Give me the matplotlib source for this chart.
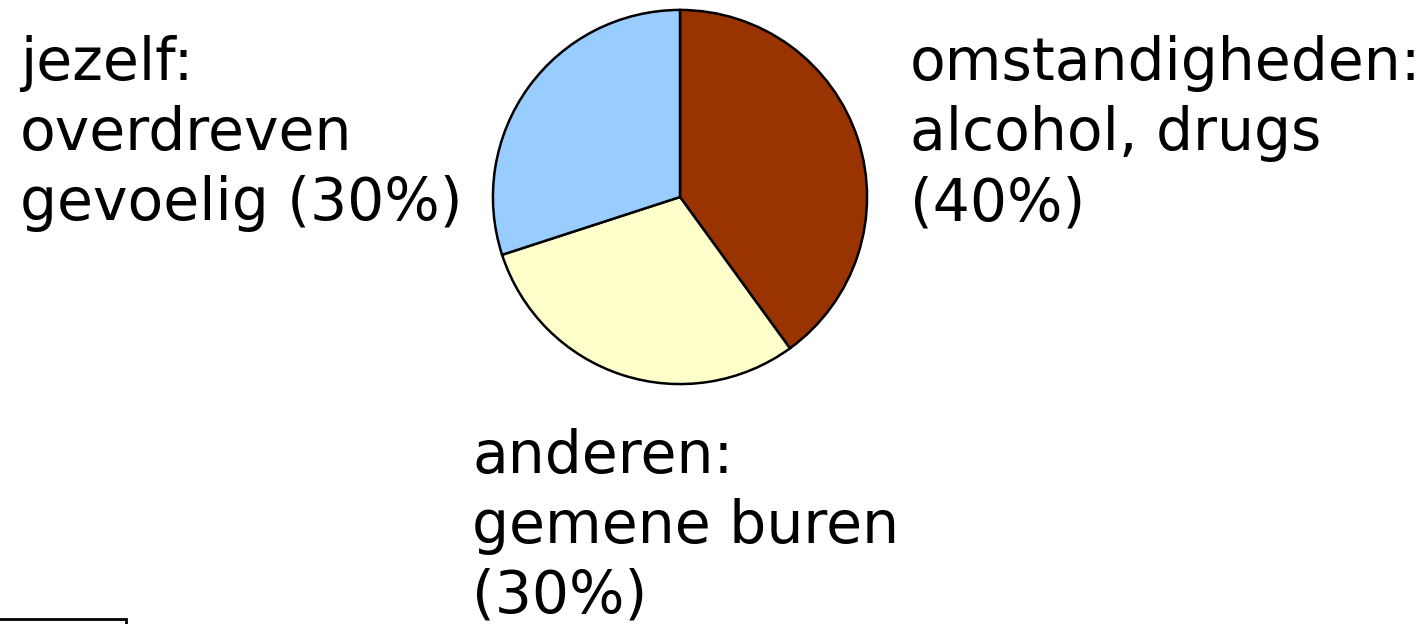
import matplotlib
matplotlib.use("Agg")
import matplotlib.pyplot as plt
from matplotlib.patches import Rectangle

# slices, clockwise from 12 o'clock
labels = [["omstandigheden:", "alcohol, drugs", "(40%)"],
          ["anderen:", "gemene buren", "(30%)"],
          ["jezelf:", "overdreven", "gevoelig (30%)"]]
values = [40, 30, 30]
colors = ["#993300", "#FFFFCC", "#99CCFF"]

fig = plt.figure(figsize=(14.27, 6.24), dpi=100)
ax = fig.add_axes([492 / 1427, 1 - 385 / 624, 376 / 1427, 376 / 624])
ax.pie(values, colors=colors, startangle=90, counterclock=False,
       wedgeprops=dict(edgecolor="black", linewidth=1.8))
ax.set_xlim(-1.005, 1.005)
ax.set_ylim(-1.005, 1.005)
ax.set_aspect("equal")

# left edge and first baseline of each label block (pixels)
pos = [(910, 80), (472, 473), (20, 80)]
step = 70
for lines, (x, y) in zip(labels, pos):
    for i, line in enumerate(lines):
        fig.text(x / 1427, 1 - (y + i * step) / 624, line, fontsize=42,
                 va="baseline", ha="left", family="DejaVu Sans")

# clipped box in the lower left corner
fig.patches.append(Rectangle((-0.01, -0.05), 126 / 1427 + 0.01, 0.05 + 5 / 624,
                             transform=fig.transFigure, fill=False,
                             edgecolor="black", linewidth=2))

fig.savefig("out.png", dpi=100)
